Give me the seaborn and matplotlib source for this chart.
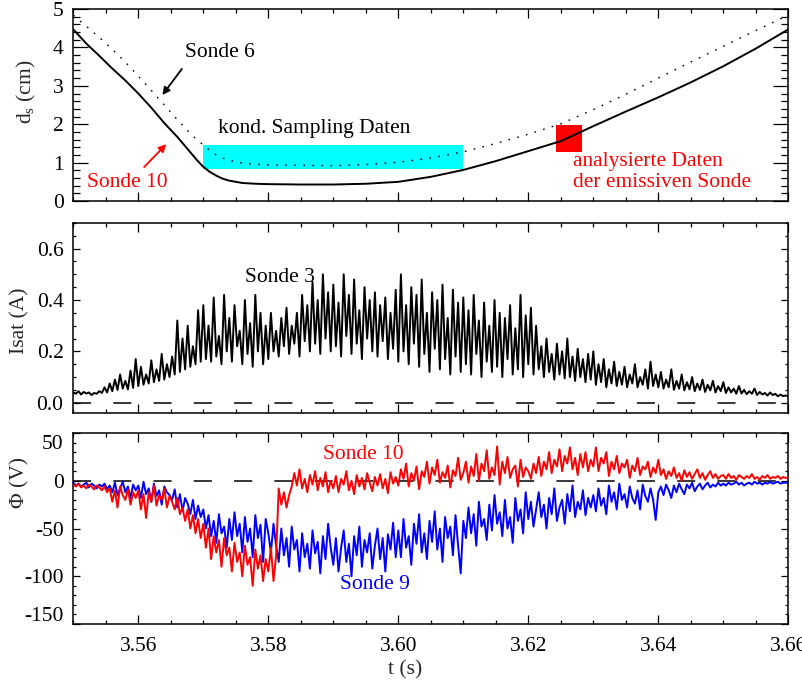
import numpy as np
import pandas as pd
import matplotlib
matplotlib.use("Agg")
import matplotlib.pyplot as plt
import matplotlib.transforms as mtransforms
from matplotlib.patches import Rectangle
from matplotlib.ticker import MultipleLocator, FixedLocator
import seaborn as sns

# ---------------------------------------------------------------- data
# Probe distance to the separatrix (cm)
ds_time = [3.550, 3.552, 3.554, 3.556, 3.558, 3.560, 3.562, 3.564, 3.566, 3.568,
           3.569, 3.570, 3.571, 3.572, 3.573, 3.574, 3.575, 3.576, 3.578, 3.580,
           3.585, 3.590, 3.595, 3.600, 3.605, 3.610, 3.615, 3.620, 3.625, 3.630,
           3.635, 3.640, 3.645, 3.650, 3.655, 3.660]
ds_sonde10 = [4.47, 4.10, 3.78, 3.45, 3.14, 2.80, 2.43, 2.03, 1.67, 1.27,
              1.07, 0.89, 0.76, 0.66, 0.58, 0.53, 0.50, 0.47, 0.45, 0.44,
              0.43, 0.43, 0.45, 0.50, 0.63, 0.81, 1.04, 1.30, 1.56, 1.95,
              2.33, 2.70, 3.09, 3.51, 3.97, 4.47]
ds_sonde6 = [4.84, 4.55, 4.26, 3.95, 3.62, 3.25, 2.88, 2.50, 2.12, 1.76,
             1.60, 1.46, 1.32, 1.20, 1.12, 1.06, 1.02, 0.99, 0.96, 0.94,
             0.93, 0.92, 0.95, 1.01, 1.12, 1.28, 1.50, 1.74, 2.01, 2.38,
             2.78, 3.20, 3.62, 4.03, 4.44, 4.84]

# windows marked in the top panel: (t0, t1, d0, d1)
sampling_window = (3.570, 3.610, 0.83, 1.46)
emissive_window = (3.6243, 3.6282, 1.28, 1.98)

# sampled signals: 0.4 ms steps starting at 3.550 s, one row per 10 ms
T_START = 3.550
T_STEP = 0.0004

isat_sonde3 = [
    0.040, 0.035, 0.045, 0.032, 0.042, 0.036, 0.040, 0.030, 0.038, 0.035, 0.045, 0.038, 0.060, 0.040, 0.075, 0.045, 0.090, 0.050, 0.110, 0.055, 0.085, 0.052, 0.125, 0.058, 0.170,
    0.065, 0.140, 0.070, 0.110, 0.075, 0.165, 0.080, 0.130, 0.085, 0.190, 0.090, 0.150, 0.100, 0.180, 0.110, 0.320, 0.120, 0.250, 0.130, 0.300, 0.140, 0.220, 0.150, 0.360, 0.160,
    0.380, 0.170, 0.300, 0.160, 0.410, 0.180, 0.260, 0.150, 0.420, 0.200, 0.330, 0.160, 0.380, 0.220, 0.280, 0.150, 0.400, 0.190, 0.310, 0.140, 0.420, 0.200, 0.350, 0.150, 0.300,
    0.170, 0.350, 0.200, 0.280, 0.180, 0.330, 0.220, 0.370, 0.190, 0.300, 0.230, 0.350, 0.180, 0.420, 0.240, 0.380, 0.200, 0.470, 0.230, 0.400, 0.190, 0.500, 0.250, 0.430, 0.200,
    0.460, 0.220, 0.390, 0.180, 0.500, 0.260, 0.420, 0.190, 0.480, 0.230, 0.360, 0.170, 0.450, 0.250, 0.400, 0.200, 0.430, 0.180, 0.380, 0.240, 0.410, 0.170, 0.350, 0.210, 0.440,
    0.160, 0.500, 0.200, 0.380, 0.150, 0.450, 0.230, 0.420, 0.140, 0.480, 0.190, 0.350, 0.120, 0.430, 0.210, 0.400, 0.130, 0.460, 0.170, 0.330, 0.110, 0.440, 0.180, 0.390, 0.120,
    0.410, 0.150, 0.360, 0.110, 0.420, 0.190, 0.320, 0.100, 0.390, 0.160, 0.300, 0.120, 0.400, 0.140, 0.350, 0.100, 0.330, 0.170, 0.380, 0.110, 0.290, 0.130, 0.420, 0.100, 0.340,
    0.150, 0.370, 0.110, 0.300, 0.130, 0.220, 0.100, 0.250, 0.120, 0.190, 0.090, 0.230, 0.110, 0.200, 0.095, 0.250, 0.100, 0.180, 0.085, 0.210, 0.100, 0.170, 0.080, 0.190, 0.090,
    0.200, 0.070, 0.150, 0.080, 0.170, 0.060, 0.130, 0.075, 0.160, 0.065, 0.120, 0.070, 0.140, 0.060, 0.110, 0.075, 0.150, 0.060, 0.100, 0.070, 0.130, 0.055, 0.160, 0.065, 0.110,
    0.060, 0.120, 0.055, 0.090, 0.060, 0.130, 0.050, 0.085, 0.055, 0.110, 0.048, 0.080, 0.052, 0.100, 0.045, 0.075, 0.050, 0.090, 0.042, 0.070, 0.048, 0.085, 0.040, 0.065, 0.045,
    0.080, 0.038, 0.060, 0.040, 0.055, 0.035, 0.065, 0.036, 0.050, 0.033, 0.045, 0.035, 0.055, 0.030, 0.042, 0.032, 0.038, 0.028, 0.040, 0.030, 0.035, 0.025, 0.032, 0.026, 0.028,
    0.025,
]

phi_sonde10 = [
    -4, -6, -3, -7, -5, -8, -4, -6, -9, -5, -7, -10, -6, -12, -8, -22, -10, -28, -6, -15, -20, -9, -25, -12, -18,
    -10, -30, -14, -39, -12, -22, -5, -26, -15, -20, -8, -28, -16, -22, -30, -18, -35, -28, -42, -30, -50, -36, -55, -40, -60,
    -45, -70, -50, -82, -58, -75, -62, -90, -60, -78, -70, -95, -65, -85, -75, -100, -68, -88, -80, -110, -72, -92, -78, -105, -82,
    -95, -70, -105, -78, -8, -25, -12, -28, -15, -6, 8, -5, 12, -8, 2, -12, 6, -4, 10, -10, 3, -6, 9, -12, 0,
    -8, 5, -12, 2, -4, 10, -10, 0, -14, 6, -6, 3, -9, 8, -2, -11, 4, -5, 7, -8, 2, -13, 9, -3, 4,
    -5, 12, 2, 18, -6, 8, 0, 15, -9, 10, 4, 20, -3, 14, 6, 22, -2, 9, 3, 16, -7, 11, 5, 24, 1,
    8, 20, -2, 15, 5, 28, 0, 18, 10, 32, 2, 14, 6, 36, -4, 20, 8, 25, 3, 12, 16, -6, 22, 4, 14,
    10, 2, 18, 8, 25, 5, 20, 12, 30, 8, 22, 15, 33, 10, 26, 18, 35, 12, 24, 6, 28, 14, 30, 10, 22,
    15, 35, 10, 24, 18, 30, 5, 20, 12, 26, 8, 18, 14, 22, 3, 16, 10, 24, 6, 15, 12, 20, 4, 14, 8,
    22, 6, 12, 2, 10, 5, 14, 3, 8, 0, 11, 4, 9, 2, 7, 12, 3, 8, 1, 6, 10, 3, 7, 2, 5,
    6, 2, 7, 3, 5, 1, 6, 4, 2, 5, 3, 7, 2, 4, 1, 5, 3, 6, 2, 4, 3, 5, 2, 4, 3,
    3,
]

phi_sonde9 = [
    -2, -5, -3, -6, -4, -2, -7, -3, -5, -8, -4, -6, -3, -9, -5, -12, -2, -15, -8, -1, -12, -6, -18, -4, -10,
    -5, -18, -1, -14, -8, -22, -3, -16, -10, -25, -6, -12, -15, -20, -9, -28, -14, -32, -18, -24, -35, -20, -40, -26, -38,
    -30, -50, -36, -58, -42, -65, -35, -55, -48, -70, -40, -62, -33, -58, -45, -75, -38, -64, -50, -80, -36, -60, -46, -85, -40,
    -55, -75, -45, -68, -85, -50, -78, -60, -90, -48, -72, -62, -95, -55, -80, -66, -92, -52, -76, -64, -97, -58, -82, -45, -70,
    -88, -60, -95, -70, -52, -85, -66, -100, -58, -78, -48, -90, -62, -75, -55, -92, -68, -50, -82, -60, -95, -56, -72, -44, -80,
    -52, -80, -40, -70, -58, -88, -45, -66, -35, -75, -55, -82, -42, -64, -32, -72, -50, -85, -38, -60, -48, -78, -36, -68, -97,
    -42, -60, -28, -55, -35, -68, -22, -48, -40, -62, -25, -52, -15, -45, -33, -58, -20, -50, -38, -65, -18, -42, -30, -55, -12,
    -40, -22, -48, -30, -12, -38, -25, -50, -18, -35, -8, -42, -28, -20, -45, -14, -32, -5, -38, -22, -30, -10, -36, -18, -28,
    -15, -32, -8, -26, -18, -35, -5, -22, -12, -30, -3, -20, -14, -28, -6, -18, -24, -10, -30, -4, -16, -22, -8, -20, -41,
    -12, -6, -15, -4, -10, -18, -5, -12, -3, -9, -14, -4, -8, -2, -11, -6, -3, -9, -5, -2, -7, -4, -6, -2, -5,
    -3, -5, -2, -4, -3, -1, -4, -2, -5, -3, -2, -4, -1, -3, -2, -4, -2, -3, -1, -3, -2, -1, -3, -2, -2,
    -2,
]

x_ticks = [3.56, 3.58, 3.60, 3.62, 3.64, 3.66]
x_ticklabels = ["3.56", "3.58", "3.60", "3.62", "3.64", "3.66"]

# ---------------------------------------------------------------- style
sns.set_theme(style="ticks")
plt.rcParams.update({
    "font.family": ["Liberation Serif", "DejaVu Serif"],
    "mathtext.fontset": "custom",
    "mathtext.rm": "Liberation Serif",
    "mathtext.it": "Liberation Serif:italic",
    "font.size": 15.5,
    "axes.linewidth": 1.1,
    "axes.edgecolor": "black",
    "lines.scale_dashes": False,
    "xtick.color": "black",
    "ytick.color": "black",
})

FS = 15.5
SIG_LW = 1.4
t_sig = T_START + T_STEP * np.arange(len(isat_sonde3))
sig = pd.DataFrame({"t": t_sig, "isat": isat_sonde3,
                    "phi10": phi_sonde10, "phi9": phi_sonde9})
ds = pd.DataFrame({"t": ds_time, "s10": ds_sonde10, "s6": ds_sonde6})

fig = plt.figure(figsize=(8.03, 6.88), dpi=100)
ax1 = fig.add_axes([0.0913, 0.7078, 0.8904, 0.2791])
ax2 = fig.add_axes([0.0913, 0.3997, 0.8904, 0.2762])
ax3 = fig.add_axes([0.0913, 0.0930, 0.8904, 0.2776])

# ---------------------------------------------------------------- panel 1
ax1.add_patch(Rectangle((sampling_window[0], sampling_window[2]),
                        sampling_window[1] - sampling_window[0],
                        sampling_window[3] - sampling_window[2],
                        facecolor="#00ffff", edgecolor="none", zorder=1))
ax1.add_patch(Rectangle((emissive_window[0], emissive_window[2]),
                        emissive_window[1] - emissive_window[0],
                        emissive_window[3] - emissive_window[2],
                        facecolor="#ff0000", edgecolor="none", zorder=1))
sns.lineplot(data=ds, x="t", y="s6", ax=ax1, color="black", lw=1.0,
             linestyle=(0, (1.2, 5.3)), estimator=None, sort=False, zorder=3)
sns.lineplot(data=ds, x="t", y="s10", ax=ax1, color="black", lw=1.4,
             estimator=None, sort=False, zorder=3)
ax1.set_ylim(0, 5)
ax1.yaxis.set_major_locator(MultipleLocator(1))
ax1.yaxis.set_minor_locator(MultipleLocator(0.2))

ax1.text(3.5672, 3.88, "Sonde 6", fontsize=FS, color="black", va="center")
ax1.annotate("", xy=(3.5637, 2.76), xytext=(3.5667, 3.44),
             arrowprops=dict(arrowstyle="-|>", color="black", lw=1.3,
                             mutation_scale=11, shrinkA=0, shrinkB=0))
ax1.text(3.5521, 0.47, "Sonde 10", fontsize=FS, color="red", va="center")
ax1.annotate("", xy=(3.5643, 1.48), xytext=(3.5609, 0.885),
             arrowprops=dict(arrowstyle="-|>", color="red", lw=1.3,
                             mutation_scale=11, shrinkA=0, shrinkB=0))
ax1.text(3.5723, 1.90, "kond. Sampling Daten", fontsize=FS, color="black", va="center")
ax1.text(3.6269, 1.04, "analysierte Daten", fontsize=FS, color="red", va="center")
ax1.text(3.6269, 0.49, "der emissiven Sonde", fontsize=FS, color="red", va="center")
ax1.set_ylabel(r"d$_\mathrm{s}$ (cm)", fontsize=FS)
ax1.yaxis.set_label_coords(-0.049, 0.57)

# ---------------------------------------------------------------- panel 2
ax2.axhline(0, color="black", lw=1.1, linestyle=(0, (13, 16)), zorder=1)
sns.lineplot(data=sig, x="t", y="isat", ax=ax2, color="black", lw=SIG_LW,
             estimator=None, sort=False, zorder=2)
ax2.set_ylim(-0.04, 0.70)
ax2.yaxis.set_major_locator(MultipleLocator(0.2))
ax2.yaxis.set_minor_locator(MultipleLocator(0.05))
ax2.yaxis.set_major_formatter(matplotlib.ticker.FormatStrFormatter("%.1f"))
ax2.text(3.5764, 0.486, "Sonde 3", fontsize=FS, color="black", va="center")
ax2.set_ylabel("Isat (A)", fontsize=FS)
ax2.yaxis.set_label_coords(-0.062, 0.484)

# ---------------------------------------------------------------- panel 3
ax3.axhline(0, color="black", lw=1.1, linestyle=(0, (13, 16)), zorder=1)
sns.lineplot(data=sig, x="t", y="phi9", ax=ax3, color="#0000ff", lw=SIG_LW,
             estimator=None, sort=False, zorder=2)
sns.lineplot(data=sig, x="t", y="phi10", ax=ax3, color="#ff0000", lw=SIG_LW,
             estimator=None, sort=False, zorder=3)
ax3.set_ylim(-150, 50)
ax3.yaxis.set_major_locator(FixedLocator([-150, -100, -50, 0, 50]))
ax3.yaxis.set_minor_locator(MultipleLocator(10))
ax3.text(3.5884, 27, "Sonde 10", fontsize=FS, color="red", va="center")
ax3.text(3.5910, -109, "Sonde 9", fontsize=FS, color="#0000ff", va="center")
ax3.set_ylabel("\u03a6 (V)", fontsize=FS)
ax3.yaxis.set_label_coords(-0.061, 0.74)
ax3.set_xlabel("t (s)", fontsize=FS)
ax3.xaxis.set_label_coords(0.464, -0.19)

# ---------------------------------------------------------------- axes styling
for ax in (ax1, ax2, ax3):
    ax.set_xlim(3.55, 3.66)
    ax.xaxis.set_major_locator(FixedLocator(x_ticks))
    ax.xaxis.set_minor_locator(MultipleLocator(0.005))
    ax.tick_params(axis="both", which="both", direction="in",
                   top=True, right=True, width=0.9, labelsize=FS)
    ax.tick_params(axis="x", which="major", length=6.5, pad=9)
    ax.tick_params(axis="x", which="minor", length=3.2)
    ax.tick_params(axis="y", which="major", pad=7)
    for sp in ax.spines.values():
        sp.set_color("black")
        sp.set_linewidth(1.1)
    if ax is not ax3:
        ax.tick_params(axis="x", labelbottom=False)
        ax.set_xlabel("")

ax1.tick_params(axis="y", which="major", length=10.8)
ax1.tick_params(axis="y", which="minor", length=5.0)
for ax in (ax2, ax3):
    ax.tick_params(axis="y", which="major", length=5.0)
    ax.tick_params(axis="y", which="minor", length=2.5)

ax3.set_xticks(x_ticks)
ax3.set_xticklabels(x_ticklabels)

# end labels of the potential axis sit slightly inside the frame
fig.canvas.draw()
for tick in ax3.yaxis.get_major_ticks():
    lbl = tick.label1
    if lbl.get_text() in ("50",):
        lbl.set_transform(lbl.get_transform() +
                          mtransforms.ScaledTranslation(0, -9 / 100, fig.dpi_scale_trans))
    elif lbl.get_text() in ("-150", "\u2212150"):
        lbl.set_transform(lbl.get_transform() +
                          mtransforms.ScaledTranslation(0, 10 / 100, fig.dpi_scale_trans))
ax3.yaxis.set_major_formatter(matplotlib.ticker.FuncFormatter(lambda v, p: f"{v:.0f}"))

fig.savefig("out.png", dpi=100)
